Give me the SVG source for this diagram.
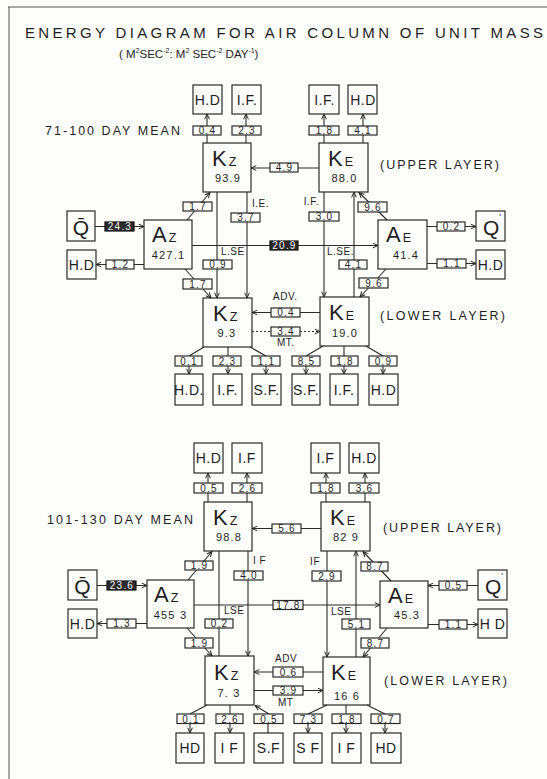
<svg xmlns="http://www.w3.org/2000/svg" width="547" height="779" viewBox="0 0 547 779">
<defs>
<marker id="a" viewBox="0 0 8 8" refX="7.5" refY="4" markerWidth="6" markerHeight="6" orient="auto" markerUnits="userSpaceOnUse">
<path d="M0.5,0.8 L7.5,4 L0.5,7.2" fill="none" stroke="#222" stroke-width="1.3"/>
</marker>
<style>
.bx{fill:none;stroke:#2a2a2a;stroke-width:1.2}
.lb{fill:#fdfdfb;stroke:#2a2a2a;stroke-width:1.2}
.dk{fill:#2b2b2b;stroke:#111;stroke-width:1.2}
.ln{fill:none;stroke:#2a2a2a;stroke-width:1.1}
.ar{fill:none;stroke:#2a2a2a;stroke-width:1.1;marker-end:url(#a)}
.dt{stroke-dasharray:2 2}
text{font-family:"Liberation Sans",Arial,sans-serif;fill:#1e1e1e}
.n{font-size:10px;text-anchor:middle;letter-spacing:1.2px}
.w{fill:#f4f4f4}
.nb{font-size:14px;text-anchor:middle;letter-spacing:0.5px}
.bg{font-size:22px}
.sb{font-size:12.5px}
.v{font-size:11px;text-anchor:middle;letter-spacing:1.2px}
.s{font-size:10px;letter-spacing:0.5px}
.h{font-size:12.5px}
.sp{font-size:7px}
</style>
</defs>
<rect x="0" y="0" width="547" height="779" fill="#fdfdfb"/>
<line x1="8" y1="7" x2="547" y2="7" stroke="#555" stroke-width="1"/>
<line x1="9" y1="7" x2="9" y2="779" stroke="#555" stroke-width="1"/>
<text x="25" y="38" font-size="15" textLength="518" lengthAdjust="spacing">ENERGY DIAGRAM FOR AIR COLUMN OF UNIT MASS</text>
<text x="119" y="58" font-size="11.5">( M<tspan class="sp" dy="-5">2</tspan><tspan dy="5">SEC</tspan><tspan class="sp" dy="-5">-2</tspan><tspan dy="5">: M</tspan><tspan class="sp" dy="-5">2</tspan><tspan dy="5"> SEC</tspan><tspan class="sp" dy="-5">-2</tspan><tspan dy="5"> DAY</tspan><tspan class="sp" dy="-5">-1</tspan><tspan dy="5">)</tspan></text>

<!-- ===== TOP DIAGRAM ===== -->
<text class="h" x="45" y="135" textLength="135" lengthAdjust="spacing">71-100 DAY MEAN</text>
<text class="h" x="380" y="169" textLength="119" lengthAdjust="spacing">(UPPER LAYER)</text>
<text class="h" x="380" y="320" textLength="125" lengthAdjust="spacing">(LOWER LAYER)</text>

<g id="connectors-top">
<line class="ln" x1="207" y1="143" x2="207" y2="134"/>
<line class="ar" x1="207" y1="126" x2="207" y2="114"/>
<line class="ln" x1="246" y1="143" x2="246" y2="134"/>
<line class="ar" x1="246" y1="126" x2="246" y2="114"/>
<line class="ln" x1="324" y1="143" x2="324" y2="134"/>
<line class="ar" x1="324" y1="126" x2="324" y2="114"/>
<line class="ln" x1="363" y1="143" x2="363" y2="134"/>
<line class="ar" x1="363" y1="126" x2="363" y2="114"/>
<line class="ar" x1="319" y1="168" x2="251" y2="168"/>
<line class="ar" x1="95" y1="226.5" x2="144" y2="226.5"/>
<line class="ar" x1="144" y1="264.5" x2="96" y2="264.5"/>
<line class="ar" x1="187" y1="220" x2="210" y2="192.5"/>
<line class="ar" x1="185" y1="269" x2="211" y2="298"/>
<line class="ar" x1="217" y1="192" x2="217" y2="298"/>
<line class="ar" x1="247" y1="192" x2="247" y2="298"/>
<line class="ar" x1="192" y1="245.5" x2="378" y2="245.5"/>
<line class="ar" x1="324" y1="192" x2="324" y2="297"/>
<line class="ar" x1="354" y1="297" x2="354" y2="192"/>
<line class="ar" x1="387" y1="220" x2="359" y2="192.5"/>
<line class="ar" x1="386" y1="269" x2="360" y2="297"/>
<line class="ar" x1="427" y1="226.5" x2="476" y2="226.5"/>
<line class="ar" x1="427" y1="263.5" x2="476" y2="263.5"/>
<line class="ar" x1="320" y1="312.5" x2="252" y2="312.5"/>
<line class="ar dt" x1="252" y1="331.5" x2="320" y2="331.5"/>
<line class="ln" x1="204" y1="347" x2="189" y2="356"/>
<line class="ln" x1="228" y1="347" x2="228" y2="356"/>
<line class="ln" x1="250" y1="347" x2="266" y2="356"/>
<line class="ln" x1="323" y1="346" x2="306" y2="356"/>
<line class="ln" x1="344" y1="346" x2="344" y2="356"/>
<line class="ln" x1="366" y1="346" x2="383" y2="356"/>
<line class="ar" x1="189" y1="362" x2="189" y2="374"/>
<line class="ar" x1="228" y1="362" x2="228" y2="374"/>
<line class="ar" x1="266" y1="362" x2="266" y2="374"/>
<line class="ar" x1="306" y1="362" x2="306" y2="374"/>
<line class="ar" x1="344" y1="362" x2="344" y2="374"/>
<line class="ar" x1="383" y1="362" x2="383" y2="374"/>
</g>

<g id="labels-top">
<rect class="lb" x="193" y="126" width="28" height="9"/><text class="n" x="207.5" y="134">0.4</text>
<rect class="lb" x="232" y="126" width="29" height="9"/><text class="n" x="247" y="134">2.3</text>
<rect class="lb" x="309" y="126" width="30" height="9"/><text class="n" x="324.5" y="134">1.8</text>
<rect class="lb" x="348" y="126" width="29" height="9"/><text class="n" x="363" y="134">4.1</text>
<rect class="lb" x="270" y="163" width="28" height="9"/><text class="n" x="284.5" y="171">4.9</text>
<rect class="dk" x="105" y="222" width="29" height="9"/><text class="n w" x="120" y="230">24.3</text>
<rect class="lb" x="183" y="202" width="29" height="9"/><text class="n" x="198" y="210">1.7</text>
<rect class="lb" x="231" y="213" width="29" height="9"/><text class="n" x="246" y="221">3.7</text>
<rect class="lb" x="309" y="212" width="30" height="9"/><text class="n" x="324.5" y="220">3.0</text>
<rect class="lb" x="358" y="202" width="29" height="10"/><text class="n" x="373" y="211">9.6</text>
<rect class="lb" x="437" y="222" width="28" height="9"/><text class="n" x="451.5" y="230">0.2</text>
<rect class="dk" x="270" y="241" width="28" height="9"/><text class="n w" x="284.5" y="249">20.9</text>
<rect class="lb" x="106" y="260" width="28" height="9"/><text class="n" x="120.5" y="268">1.2</text>
<rect class="lb" x="203" y="260" width="29" height="9"/><text class="n" x="218" y="268">0.9</text>
<rect class="lb" x="339" y="260" width="28" height="9"/><text class="n" x="353.5" y="268">4.1</text>
<rect class="lb" x="437" y="259" width="29" height="9"/><text class="n" x="452" y="267">1.1</text>
<rect class="lb" x="183" y="279" width="29" height="10"/><text class="n" x="198" y="288">1.7</text>
<rect class="lb" x="359" y="278" width="29" height="10"/><text class="n" x="374" y="287">9.6</text>
<rect class="lb" x="271" y="308" width="29" height="9"/><text class="n" x="286" y="316">0.4</text>
<rect class="lb" x="271" y="327" width="29" height="9"/><text class="n" x="286" y="335">3.4</text>
<rect class="lb" x="175" y="356" width="27" height="10"/><text class="n" x="189" y="365">0.1</text>
<rect class="lb" x="213" y="356" width="28" height="10"/><text class="n" x="227.5" y="365">2.3</text>
<rect class="lb" x="252" y="356" width="28" height="10"/><text class="n" x="266.5" y="365">1.1</text>
<rect class="lb" x="292" y="356" width="28" height="10"/><text class="n" x="306.5" y="365">8.5</text>
<rect class="lb" x="331" y="356" width="27" height="10"/><text class="n" x="345" y="365">1.8</text>
<rect class="lb" x="369" y="356" width="28" height="10"/><text class="n" x="383.5" y="365">0.9</text>
<text class="s" x="252" y="207">I.E.</text>
<text class="s" x="319" y="205" text-anchor="end">I.F.</text>
<text class="s" x="221" y="255">L.SE</text>
<text class="s" x="327" y="255">L.SE.</text>
<text class="s" x="273" y="300">ADV.</text>
<text class="s" x="277" y="346">MT.</text>
</g>

<g id="t-hd1"><rect class="bx" x="193" y="85" width="29" height="29"/><text class="nb" x="207.5" y="105">H.D</text></g>
<g id="t-if1"><rect class="bx" x="232" y="85" width="29" height="29"/><text class="nb" x="247" y="105">I.F.</text></g>
<g id="t-if2"><rect class="bx" x="309" y="85" width="30" height="29"/><text class="nb" x="324.5" y="105">I.F.</text></g>
<g id="t-hd2"><rect class="bx" x="348" y="85" width="29" height="29"/><text class="nb" x="363" y="105">H.D</text></g>
<g id="t-kz-upper"><rect class="bx" x="203" y="143" width="48" height="49"/><text x="212" y="166"><tspan class="bg">K</tspan><tspan class="sb" dx="2">Z</tspan></text><text class="v" x="228" y="182">93.9</text></g>
<g id="t-ke-upper"><rect class="bx" x="319" y="143" width="49" height="49"/><text x="328" y="166"><tspan class="bg">K</tspan><tspan class="sb" dx="2">E</tspan></text><text class="v" x="344.5" y="182">88.0</text></g>
<g id="t-qbar"><rect class="bx" x="67" y="211" width="28" height="30"/><text x="81" y="235" font-size="21" text-anchor="middle">Q&#x304;</text></g>
<g id="t-az"><rect class="bx" x="144" y="220" width="48" height="49"/><text x="152" y="242"><tspan class="bg">A</tspan><tspan class="sb" dx="2">Z</tspan></text><text class="v" x="168.5" y="259">427.1</text></g>
<g id="t-ae"><rect class="bx" x="378" y="220" width="49" height="49"/><text x="386" y="242"><tspan class="bg">A</tspan><tspan class="sb" dx="2">E</tspan></text><text class="v" x="406" y="259">41.4</text></g>
<g id="t-qprime"><rect class="bx" x="476" y="211" width="29" height="30"/><text x="483" y="235" font-size="21">Q<tspan font-size="9" dy="-15">'</tspan></text></g>
<g id="t-hd-left"><rect class="bx" x="67" y="250" width="29" height="29"/><text class="nb" x="81.5" y="270">H.D</text></g>
<g id="t-hd-right"><rect class="bx" x="476" y="250" width="29" height="29"/><text class="nb" x="490.5" y="270">H.D</text></g>
<g id="t-kz-lower"><rect class="bx" x="203" y="298" width="49" height="49"/><text x="213" y="321"><tspan class="bg">K</tspan><tspan class="sb" dx="2">Z</tspan></text><text class="v" x="227" y="337">9.3</text></g>
<g id="t-ke-lower"><rect class="bx" x="320" y="297" width="49" height="49"/><text x="329" y="320"><tspan class="bg">K</tspan><tspan class="sb" dx="2">E</tspan></text><text class="v" x="345" y="337">19.0</text></g>
<g id="t-b-hd1"><rect class="bx" x="175" y="374" width="28" height="31"/><text class="nb" x="189" y="395">H.D.</text></g>
<g id="t-b-if1"><rect class="bx" x="213" y="374" width="29" height="31"/><text class="nb" x="227.5" y="395">I.F.</text></g>
<g id="t-b-sf1"><rect class="bx" x="252" y="374" width="29" height="31"/><text class="nb" x="266.5" y="395">S.F.</text></g>
<g id="t-b-sf2"><rect class="bx" x="292" y="374" width="28" height="31"/><text class="nb" x="306" y="395">S.F.</text></g>
<g id="t-b-if2"><rect class="bx" x="330" y="374" width="28" height="31"/><text class="nb" x="344" y="395">I.F.</text></g>
<g id="t-b-hd2"><rect class="bx" x="369" y="374" width="29" height="31"/><text class="nb" x="383.5" y="395">H.D</text></g>

<!-- ===== BOTTOM DIAGRAM ===== -->
<text class="h" x="47" y="524" textLength="146" lengthAdjust="spacing">101-130 DAY MEAN</text>
<text class="h" x="383" y="532" textLength="118" lengthAdjust="spacing">(UPPER LAYER)</text>
<text class="h" x="384" y="685" textLength="123" lengthAdjust="spacing">(LOWER LAYER)</text>

<g id="connectors-bottom">
<line class="ln" x1="208" y1="502" x2="208" y2="493"/>
<line class="ar" x1="208" y1="488" x2="208" y2="473"/>
<line class="ln" x1="247" y1="502" x2="247" y2="493"/>
<line class="ar" x1="247" y1="488" x2="247" y2="473"/>
<line class="ln" x1="326" y1="502" x2="326" y2="493"/>
<line class="ar" x1="326" y1="488" x2="326" y2="473"/>
<line class="ln" x1="365" y1="502" x2="365" y2="493"/>
<line class="ar" x1="365" y1="488" x2="365" y2="473"/>
<line class="ar" x1="321" y1="528.5" x2="252" y2="528.5"/>
<line class="ar" x1="97" y1="585.5" x2="147" y2="585.5"/>
<line class="ar" x1="147" y1="623.5" x2="97" y2="623.5"/>
<line class="ar" x1="188" y1="580" x2="212" y2="551.5"/>
<line class="ar" x1="187" y1="628" x2="212" y2="656"/>
<line class="ln" x1="219" y1="551" x2="219" y2="656"/>
<line class="ar" x1="248" y1="551" x2="248" y2="656"/>
<line class="ar" x1="194" y1="605" x2="380" y2="605"/>
<line class="ar" x1="327" y1="551" x2="327" y2="657"/>
<line class="ar" x1="356" y1="657" x2="356" y2="551"/>
<line class="ar" x1="391" y1="581" x2="363" y2="551.5"/>
<line class="ar" x1="387" y1="628" x2="363" y2="657"/>
<line class="ar" x1="478" y1="585.5" x2="428" y2="585.5"/>
<line class="ar" x1="428" y1="624.5" x2="478" y2="624.5"/>
<line class="ar" x1="323" y1="672" x2="254" y2="672"/>
<line class="ar" x1="254" y1="690.5" x2="323" y2="690.5"/>
<line class="ln" x1="207" y1="705" x2="190" y2="714"/>
<line class="ln" x1="230" y1="705" x2="230" y2="714"/>
<line class="ar" x1="269" y1="714" x2="255" y2="705.5"/>
<line class="ln" x1="327" y1="705" x2="308" y2="714"/>
<line class="ln" x1="346" y1="705" x2="346" y2="714"/>
<line class="ln" x1="367" y1="705" x2="385" y2="714"/>
<line class="ar" x1="190" y1="720" x2="190" y2="733"/>
<line class="ar" x1="230" y1="720" x2="230" y2="733"/>
<line class="ln" x1="268" y1="723" x2="268" y2="733"/>
<line class="ar" x1="308" y1="720" x2="308" y2="733"/>
<line class="ar" x1="346" y1="720" x2="346" y2="733"/>
<line class="ar" x1="385" y1="720" x2="385" y2="733"/>
</g>

<g id="labels-bottom">
<rect class="lb" x="194" y="483" width="29" height="10"/><text class="n" x="209" y="492">0.5</text>
<rect class="lb" x="232" y="483" width="30" height="10"/><text class="n" x="247.5" y="492">2.6</text>
<rect class="lb" x="311" y="483" width="29" height="10"/><text class="n" x="326" y="492">1.8</text>
<rect class="lb" x="349" y="483" width="30" height="10"/><text class="n" x="364.5" y="492">3.6</text>
<rect class="lb" x="272" y="524" width="29" height="9"/><text class="n" x="287" y="532">5.6</text>
<rect class="dk" x="107" y="581" width="29" height="9"/><text class="n w" x="122" y="589">23.6</text>
<rect class="lb" x="185" y="561" width="28" height="9"/><text class="n" x="199.5" y="569">1.9</text>
<rect class="lb" x="234" y="571" width="29" height="9"/><text class="n" x="249" y="579">4.0</text>
<rect class="lb" x="312" y="571" width="29" height="10"/><text class="n" x="327" y="580">2.9</text>
<rect class="lb" x="361" y="562" width="27" height="9"/><text class="n" x="375" y="570">8.7</text>
<rect class="lb" x="439" y="581" width="28" height="9"/><text class="n" x="453.5" y="589">0.5</text>
<rect class="lb" x="273" y="600.5" width="30" height="9"/><text class="n" x="288.5" y="608.5">17.8</text>
<rect class="lb" x="107" y="619" width="29" height="9"/><text class="n" x="122" y="627">1.3</text>
<rect class="lb" x="205" y="619" width="28" height="9"/><text class="n" x="219.5" y="627">0.2</text>
<rect class="lb" x="342" y="619" width="28" height="10"/><text class="n" x="356.5" y="628">5.1</text>
<rect class="lb" x="439" y="620" width="28" height="9"/><text class="n" x="453.5" y="628">1.1</text>
<rect class="lb" x="185" y="638" width="28" height="10"/><text class="n" x="199.5" y="647">1.9</text>
<rect class="lb" x="361" y="638" width="28" height="10"/><text class="n" x="375.5" y="647">8.7</text>
<rect class="lb" x="273" y="667" width="30" height="10"/><text class="n" x="288.5" y="676">0.6</text>
<rect class="lb" x="273" y="686" width="30" height="9"/><text class="n" x="288.5" y="694">3.9</text>
<rect class="lb" x="177" y="714" width="27" height="9.5"/><text class="n" x="191" y="722.5">0.1</text>
<rect class="lb" x="216" y="714" width="27" height="9.5"/><text class="n" x="230" y="722.5">2.6</text>
<rect class="lb" x="254" y="714" width="29" height="9.5"/><text class="n" x="269" y="722.5">0.5</text>
<rect class="lb" x="294" y="714" width="28" height="9.5"/><text class="n" x="308.5" y="722.5">7.3</text>
<rect class="lb" x="332" y="714" width="29" height="9.5"/><text class="n" x="347" y="722.5">1.8</text>
<rect class="lb" x="371" y="714" width="29" height="9.5"/><text class="n" x="386" y="722.5">0.7</text>
<text class="s" x="253" y="564">I F</text>
<text class="s" x="320" y="565" text-anchor="end">IF</text>
<text class="s" x="224" y="614">LSE</text>
<text class="s" x="331" y="615">LSE</text>
<text class="s" x="275" y="662">ADV</text>
<text class="s" x="278" y="706">MT</text>
</g>

<g id="b-hd1"><rect class="bx" x="194" y="443" width="29" height="30"/><text class="nb" x="208.5" y="463">H.D</text></g>
<g id="b-if1"><rect class="bx" x="232" y="443" width="30" height="30"/><text class="nb" x="247" y="463">I.F</text></g>
<g id="b-if2"><rect class="bx" x="311" y="443" width="29" height="30"/><text class="nb" x="325.5" y="463">I.F</text></g>
<g id="b-hd2"><rect class="bx" x="349" y="443" width="30" height="30"/><text class="nb" x="364" y="463">H.D</text></g>
<g id="b-kz-upper"><rect class="bx" x="204" y="502" width="48" height="49"/><text x="213" y="525"><tspan class="bg">K</tspan><tspan class="sb" dx="2">Z</tspan></text><text class="v" x="229" y="541">98.8</text></g>
<g id="b-ke-upper"><rect class="bx" x="321" y="502" width="49" height="49"/><text x="330" y="525"><tspan class="bg">K</tspan><tspan class="sb" dx="2">E</tspan></text><text class="v" x="346" y="541">82 9</text></g>
<g id="b-qbar"><rect class="bx" x="68" y="570" width="29" height="30"/><text x="82.5" y="594" font-size="21" text-anchor="middle">Q&#x304;</text></g>
<g id="b-az"><rect class="bx" x="147" y="580" width="47" height="48"/><text x="154" y="602"><tspan class="bg">A</tspan><tspan class="sb" dx="2">Z</tspan></text><text class="v" x="170.5" y="619">455 3</text></g>
<g id="b-ae"><rect class="bx" x="380" y="581" width="48" height="47"/><text x="388" y="603"><tspan class="bg">A</tspan><tspan class="sb" dx="2">E</tspan></text><text class="v" x="407" y="619">45.3</text></g>
<g id="b-qprime"><rect class="bx" x="478" y="570" width="29" height="30"/><text x="485" y="594" font-size="21">Q<tspan font-size="9" dy="-15">'</tspan></text></g>
<g id="b-hd-left"><rect class="bx" x="68" y="609" width="29" height="29"/><text class="nb" x="82.5" y="629">H.D</text></g>
<g id="b-hd-right"><rect class="bx" x="478" y="609" width="29" height="29"/><text class="nb" x="492.5" y="629">H D</text></g>
<g id="b-kz-lower"><rect class="bx" x="205" y="656" width="49" height="49"/><text x="214" y="680"><tspan class="bg">K</tspan><tspan class="sb" dx="2">Z</tspan></text><text class="v" x="229" y="697">7. 3</text></g>
<g id="b-ke-lower"><rect class="bx" x="323" y="657" width="47" height="48"/><text x="331" y="680"><tspan class="bg">K</tspan><tspan class="sb" dx="2">E</tspan></text><text class="v" x="347" y="700">16 6</text></g>
<g id="b-b-hd1"><rect class="bx" x="176" y="733" width="28" height="30"/><text class="nb" x="190" y="753">HD</text></g>
<g id="b-b-if1"><rect class="bx" x="215" y="733" width="29" height="30"/><text class="nb" x="229.5" y="753">I F</text></g>
<g id="b-b-sf1"><rect class="bx" x="254" y="733" width="29" height="30"/><text class="nb" x="268.5" y="753">S.F</text></g>
<g id="b-b-sf2"><rect class="bx" x="294" y="733" width="28" height="30"/><text class="nb" x="308" y="753">S F</text></g>
<g id="b-b-if2"><rect class="bx" x="332" y="733" width="29" height="30"/><text class="nb" x="346.5" y="753">I F</text></g>
<g id="b-b-hd2"><rect class="bx" x="371" y="733" width="30" height="30"/><text class="nb" x="386" y="753">HD</text></g>
</svg>
